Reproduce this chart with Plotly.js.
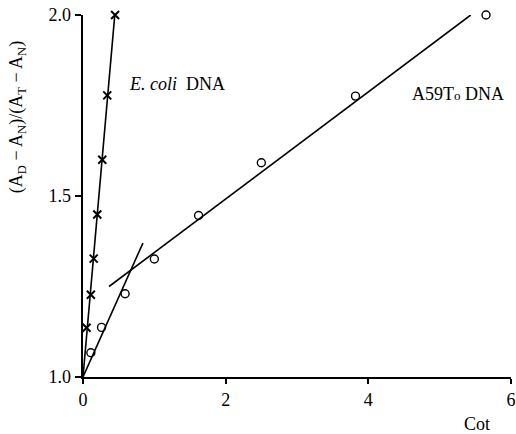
<!DOCTYPE html>
<html>
<head>
<meta charset="utf-8">
<script src="https://cdn.plot.ly/plotly-3.0.1.min.js"></script>
<style>html,body{margin:0;padding:0;background:#fff;}#chart{width:516px;height:434px;}</style>
</head>
<body>
<div id="chart"></div>
<script>
// E. coli DNA (x marks)
const ecoliCot = [0.05, 0.11, 0.15, 0.20, 0.27, 0.34, 0.45];
const ecoliRatio = [1.136, 1.227, 1.327, 1.449, 1.600, 1.778, 2.0];
// A59To DNA (open circles)
const a59Cot = [0.11, 0.26, 0.59, 1.00, 1.62, 2.50, 3.82, 5.65];
const a59Ratio = [1.067, 1.137, 1.230, 1.326, 1.446, 1.592, 1.776, 2.0];
// fitted lines (endpoints as drawn)
const ecoliFitX = [0.0, 0.45];
const ecoliFitY = [1.0, 2.01];
const a59FastFitX = [0.0, 0.84];
const a59FastFitY = [1.0, 1.37];
const a59SlowFitX = [0.365, 5.435];
const a59SlowFitY = [1.25, 2.0];
// ticks
const xTicks = [0, 2, 4, 6];
const yTicks = [1.0, 1.5, 2.0];
const yTickText = ['1.0', '1.5', '2.0'];

const serif = 'Liberation Serif';
const lineStyle = {color: '#000', width: 1.6};

const traces = [
  {x: ecoliFitX, y: ecoliFitY, mode: 'lines', line: lineStyle, hoverinfo: 'skip', cliponaxis: false},
  {x: a59FastFitX, y: a59FastFitY, mode: 'lines', line: lineStyle, hoverinfo: 'skip', cliponaxis: false},
  {x: a59SlowFitX, y: a59SlowFitY, mode: 'lines', line: lineStyle, hoverinfo: 'skip', cliponaxis: false},
  {x: ecoliCot, y: ecoliRatio, mode: 'markers', cliponaxis: false,
   marker: {symbol: 'x-thin-open', size: 8, color: '#000', line: {color: '#000', width: 2}}},
  {x: a59Cot, y: a59Ratio, mode: 'markers', cliponaxis: false,
   marker: {symbol: 'circle-open', size: 8, color: '#000', line: {color: '#000', width: 1.4}}}
];

const layout = {
  width: 516, height: 434,
  margin: {l: 83, r: 5, t: 15, b: 57},
  paper_bgcolor: '#fff', plot_bgcolor: '#fff',
  showlegend: false,
  font: {family: serif, color: '#000', size: 17},
  xaxis: {
    range: [0, 6], tickvals: xTicks, ticktext: xTicks.map(String),
    showgrid: false, zeroline: false, showline: true, linecolor: '#000', linewidth: 2,
    ticks: 'outside', ticklen: 5, tickwidth: 2, tickcolor: '#000',
    tickfont: {family: serif, size: 18, color: '#000'}
  },
  yaxis: {
    range: [1.0, 2.0], tickvals: yTicks, ticktext: yTickText,
    showgrid: false, zeroline: false, showline: true, linecolor: '#000', linewidth: 2.5,
    ticks: 'outside', ticklen: 6, tickwidth: 2, tickcolor: '#000',
    tickfont: {family: serif, size: 18, color: '#000'}
  },
  annotations: [
    {text: '(A<sub>D</sub> − A<sub>N</sub>)/(A<sub>T</sub> − A<sub>N</sub>)', xref: 'paper', yref: 'paper',
     x: -0.154, y: 0.718, xanchor: 'center', yanchor: 'middle', textangle: -90, showarrow: false,
     font: {family: serif, size: 18, color: '#000'}},
    {text: 'Cot', xref: 'paper', yref: 'paper', x: 0.9206, y: -0.13,
     xanchor: 'center', yanchor: 'middle', showarrow: false,
     font: {family: serif, size: 18, color: '#000'}},
    {text: '<i>E. coli</i>&nbsp;&nbsp;DNA', xref: 'x', yref: 'y', x: 0.618, y: 1.809,
     xanchor: 'left', yanchor: 'middle', showarrow: false,
     font: {family: serif, size: 18, color: '#000'}},
    {text: 'A59T<span style="font-size:13px">o</span> DNA', xref: 'x', yref: 'y', x: 4.59, y: 1.781,
     xanchor: 'left', yanchor: 'middle', showarrow: false,
     font: {family: serif, size: 18, color: '#000'}}
  ]
};

Plotly.newPlot('chart', traces, layout, {displayModeBar: false, staticPlot: true});
</script>
</body>
</html>
